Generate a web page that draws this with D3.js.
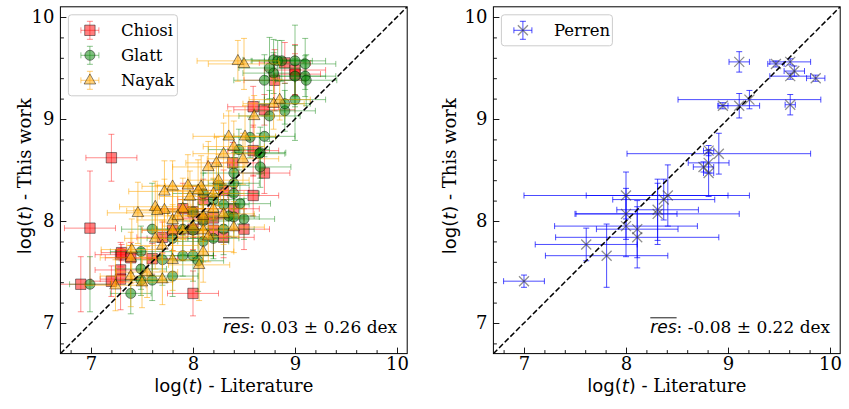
<!DOCTYPE html>
<html>
<head>
<meta charset="utf-8">
<script src="https://cdn.jsdelivr.net/npm/d3@7"></script>
<style>
body { margin: 0; background: #fff; }
text { fill: #000; }
</style>
</head>
<body>
<svg id="chart" width="849" height="409"></svg>
<script>
// log(t) values: literature (x), this work (y) and their errors
var chiosiLit = [7.20, 6.99, 6.90, 7.29, 7.30, 7.39, 7.29, 7.29, 7.20, 8.00, 8.00, 8.00, 7.80, 7.70, 8.10, 8.20, 8.50,
    8.20, 8.30, 8.39, 8.59, 8.70, 8.59, 8.59, 8.70, 8.90, 8.80, 9.00, 9.00, 8.30, 8.10, 7.90, 8.40, 7.60];
var chiosiThis = [8.62, 7.93, 7.38, 7.67, 7.69, 7.64, 7.52, 7.43, 7.41, 7.29, 8.09, 7.92, 7.91, 7.84, 8.21, 8.03, 7.92,
    7.91, 7.84, 8.57, 8.69, 8.47, 8.25, 9.12, 9.09, 9.55, 9.38, 9.48, 9.44, 8.30, 8.02, 8.12, 8.12, 7.63];
var chiosiLitErr = [0.25, 0.25, 0.30, 0.25, 0.20, 0.25, 0.25, 0.20, 0.20, 0.25, 0.30, 0.25, 0.30, 0.25, 0.25, 0.30, 0.25,
    0.25, 0.30, 0.25, 0.25, 0.25, 0.25, 0.25, 0.30, 0.25, 0.30, 0.30, 0.25, 0.25, 0.25, 0.30, 0.25, 0.25];
var chiosiThisErr = [0.23, 0.56, 0.27, 0.12, 0.08, 0.15, 0.12, 0.30, 0.15, 0.22, 0.25, 0.20, 0.20, 0.15, 0.20, 0.20, 0.20,
    0.25, 0.20, 0.20, 0.25, 0.20, 0.20, 0.20, 0.15, 0.20, 0.30, 0.25, 0.20, 0.20, 0.20, 0.25, 0.20, 0.15];

var glattLit = [6.99, 7.39, 7.49, 7.60, 7.49, 7.49, 7.80, 7.90, 8.00, 8.05, 7.60, 7.80, 8.10, 8.20, 8.30, 8.40, 8.50,
    8.40, 8.20, 8.30, 8.40, 8.40, 8.46, 8.66, 8.66, 8.70, 8.56, 8.45, 8.65, 8.75, 8.90, 8.90, 9.00, 8.70, 8.79, 8.75,
    8.79, 8.83, 8.87, 9.00, 9.10, 9.00, 9.10, 9.11, 8.00, 8.00, 8.10, 7.90, 8.25, 8.35, 7.70, 8.10];
var glattThis = [7.38, 7.29, 7.42, 7.42, 7.53, 7.70, 7.46, 7.66, 7.66, 7.61, 7.92, 7.83, 8.00, 7.83, 7.92, 8.04, 8.02,
    8.27, 8.21, 8.16, 8.47, 8.37, 8.17, 8.53, 8.67, 8.83, 8.82, 8.70, 8.66, 9.03, 9.08, 9.15, 9.19, 9.38, 9.45, 9.50,
    9.58, 9.57, 9.57, 9.57, 9.54, 9.42, 9.42, 9.38, 8.09, 7.91, 8.27, 7.92, 8.35, 8.05, 7.62, 7.80];
var glattLitErr = [0.20, 0.20, 0.25, 0.20, 0.25, 0.30, 0.25, 0.30, 0.20, 0.25, 0.30, 0.25, 0.30, 0.25, 0.30, 0.25, 0.30,
    0.25, 0.30, 0.25, 0.30, 0.25, 0.30, 0.30, 0.25, 0.30, 0.25, 0.30, 0.25, 0.30, 0.30, 0.25, 0.30, 0.30, 0.30, 0.30,
    0.30, 0.25, 0.30, 0.30, 0.30, 0.30, 0.30, 0.30, 0.25, 0.25, 0.30, 0.25, 0.30, 0.25, 0.30, 0.25];
var glattThisErr = [0.27, 0.20, 0.15, 0.20, 0.20, 0.25, 0.20, 0.20, 0.25, 0.30, 0.45, 0.20, 0.20, 0.20, 0.25, 0.20, 0.20,
    0.25, 0.20, 0.20, 0.20, 0.25, 0.20, 0.20, 0.25, 0.20, 0.20, 0.20, 0.20, 0.25, 0.20, 0.20, 0.40, 0.25, 0.20, 0.30,
    0.20, 0.20, 0.20, 0.35, 0.25, 0.30, 0.20, 0.25, 0.20, 0.20, 0.20, 0.25, 0.20, 0.20, 0.25, 0.20];

var nayakLit = [7.24, 7.39, 7.70, 7.80, 8.06, 7.70, 7.63, 7.80, 7.80, 7.90, 8.10, 7.46, 7.63, 7.72, 7.80, 7.72, 7.90,
    7.97, 8.08, 8.15, 8.23, 8.30, 8.49, 8.20, 8.30, 8.40, 8.35, 8.51, 8.40, 8.60, 8.79, 8.85, 8.44, 8.50, 7.39, 8.00,
    8.10, 8.20, 8.15, 7.55, 7.40, 8.25, 7.95, 7.85, 8.05, 7.50, 8.10, 7.65];
var nayakThis = [7.37, 7.46, 7.43, 7.62, 7.57, 7.76, 7.83, 7.91, 8.01, 7.91, 7.91, 8.08, 8.14, 8.11, 8.34, 8.29, 8.12,
    8.24, 8.34, 8.53, 8.57, 8.66, 8.61, 8.27, 8.07, 7.94, 8.83, 8.83, 8.73, 9.03, 9.15, 9.19, 9.57, 9.54, 7.64, 7.95,
    8.05, 8.12, 7.85, 7.50, 7.72, 8.40, 8.35, 8.05, 8.30, 7.40, 7.70, 8.10];
var nayakLitErr = [0.30, 0.30, 0.30, 0.30, 0.30, 0.35, 0.30, 0.30, 0.35, 0.30, 0.30, 0.30, 0.35, 0.30, 0.30, 0.35, 0.30,
    0.30, 0.35, 0.35, 0.30, 0.30, 0.35, 0.30, 0.30, 0.30, 0.35, 0.30, 0.30, 0.30, 0.30, 0.30, 0.40, 0.35, 0.30, 0.30,
    0.35, 0.30, 0.30, 0.30, 0.30, 0.30, 0.30, 0.35, 0.30, 0.30, 0.30, 0.30];
var nayakThisErr = [0.25, 0.30, 0.25, 0.30, 0.35, 0.25, 0.30, 0.25, 0.30, 0.30, 0.25, 0.30, 0.25, 0.30, 0.25, 0.30, 0.30,
    0.25, 0.30, 0.25, 0.25, 0.30, 0.25, 0.25, 0.30, 0.25, 0.25, 0.30, 0.25, 0.20, 0.25, 0.20, 0.20, 0.25, 0.25, 0.30,
    0.25, 0.30, 0.25, 0.25, 0.30, 0.25, 0.30, 0.25, 0.30, 0.25, 0.30, 0.25];

var perrenLit = [7.00, 7.61, 7.81, 8.00, 8.00, 8.00, 8.11, 8.11, 8.31, 8.31, 8.37, 8.41, 8.76, 8.81, 8.81, 8.81, 8.91,
    8.95, 9.11, 9.21, 9.11, 9.47, 9.61, 9.65, 9.61, 9.86, 9.61];
var perrenThis = [7.41, 7.77, 7.66, 8.25, 8.07, 7.95, 7.92, 7.84, 8.11, 8.07, 8.21, 8.25, 8.53, 8.57, 8.47, 8.69, 8.66,
    9.13, 9.13, 9.19, 9.56, 9.54, 9.56, 9.47, 9.42, 9.40, 9.14];
var perrenLitErr = [0.20, 0.50, 0.60, 1.00, 0.50, 0.70, 0.40, 0.80, 0.40, 0.80, 0.50, 0.80, 0.10, 0.20, 0.05, 0.05, 0.90,
    0.05, 0.20, 0.70, 0.10, 0.08, 0.20, 0.10, 0.20, 0.09, 0.05];
var perrenThisErr = [0.06, 0.16, 0.31, 0.23, 0.25, 0.30, 0.28, 0.30, 0.30, 0.30, 0.20, 0.30, 0.05, 0.10, 0.23, 0.05, 0.20,
    0.03, 0.12, 0.09, 0.10, 0.03, 0.03, 0.05, 0.03, 0.03, 0.10];

var tickValues = [7, 8, 9, 10];

var svg = d3.select("#chart");
var size = 346.8;
var domain = [6.7, 10.1];
var serif = '"DejaVu Serif", serif';
var sans = '"DejaVu Sans", sans-serif';

function markerPath(kind) {
    if (kind == "square") return "M-5.2,-5.2H5.2V5.2H-5.2Z";
    if (kind == "triangle") return "M0,-6.4L5.8,3.7H-5.8Z";
    if (kind == "x") return "M-5,-5L5,5M-5,5L5,-5";
    return d3.symbol().type(d3.symbolCircle).size(80)();
}

function drawErrorBars(g, pts, x, y, color, opacity) {
    var cap = 3;
    var eb = g.append("g").attr("stroke", color).attr("stroke-opacity", opacity).attr("stroke-width", 1).attr("fill", "none");
    pts.forEach(function (d) {
        var px = x(d.lit), py = y(d.mine);
        var x0 = x(d.lit - d.litErr), x1 = x(d.lit + d.litErr);
        var y0 = y(d.mine - d.mineErr), y1 = y(d.mine + d.mineErr);
        eb.append("path").attr("d",
            "M" + x0 + "," + py + "H" + x1 +
            "M" + px + "," + y0 + "V" + y1 +
            "M" + x0 + "," + (py - cap) + "V" + (py + cap) +
            "M" + x1 + "," + (py - cap) + "V" + (py + cap) +
            "M" + (px - cap) + "," + y0 + "H" + (px + cap) +
            "M" + (px - cap) + "," + y1 + "H" + (px + cap));
    });
}

function drawMarkers(g, pts, x, y, s) {
    g.append("g").selectAll("path").data(pts).enter().append("path")
        .attr("d", markerPath(s.marker))
        .attr("transform", function (d) { return "translate(" + x(d.lit) + "," + y(d.mine) + ")"; })
        .attr("fill", s.marker == "x" ? "none" : s.color)
        .attr("fill-opacity", 0.5)
        .attr("stroke", s.marker == "x" ? "#333" : "#000")
        .attr("stroke-opacity", s.marker == "x" ? 0.55 : 0.45)
        .attr("stroke-width", s.marker == "x" ? 1.3 : 1);
}

function legendEntry(g, s, cx, cy) {
    var fake = [{ lit: 0, mine: 0, litErr: 9, mineErr: 9 }];
    var lx = d3.scaleLinear().domain([0, 1]).range([cx, cx + 1]);
    var ly = d3.scaleLinear().domain([0, 1]).range([cy, cy - 1]);
    drawErrorBars(g, fake, lx, ly, s.color, s.barOpacity);
    drawMarkers(g, fake, lx, ly, s);
    g.append("text").attr("x", cx + 31).attr("y", cy + 6).style("font-family", serif).style("font-size", "16.5px").text(s.name);
}

function drawPanel(left, series, resLabel, legendWidth, ylabelOffset) {
    var g = svg.append("g").attr("transform", "translate(" + left + ",6.8)");
    var x = d3.scaleLinear().domain(domain).range([0, size]);
    var y = d3.scaleLinear().domain(domain).range([size, 0]);

    var clip = "clip" + Math.round(left);
    g.append("clipPath").attr("id", clip).append("rect").attr("width", size).attr("height", size);
    var plot = g.append("g").attr("clip-path", "url(#" + clip + ")");

    series.forEach(function (s) {
        var pts = s.lit.map(function (v, i) {
            return { lit: v, mine: s.mine[i], litErr: s.litErr[i], mineErr: s.mineErr[i] };
        });
        drawErrorBars(plot, pts, x, y, s.color, s.barOpacity);
        drawMarkers(plot, pts, x, y, s);
    });

    // one-to-one line
    plot.append("line")
        .attr("x1", x(domain[0])).attr("y1", y(domain[0]))
        .attr("x2", x(domain[1])).attr("y2", y(domain[1]))
        .attr("stroke", "#000").attr("stroke-width", 1.5).attr("stroke-dasharray", "5.5,2.5");

    // axes, ticks pointing inward
    var minor = d3.range(6.8, 10.1, 0.2).filter(function (v) { return Math.abs(v - Math.round(v)) > 0.01; });
    g.append("g").attr("transform", "translate(0," + size + ")")
        .call(d3.axisBottom(x).tickValues(tickValues).tickSizeInner(-6).tickSizeOuter(0).tickPadding(4).tickFormat(d3.format("d")));
    g.append("g").attr("transform", "translate(0," + size + ")")
        .call(d3.axisBottom(x).tickValues(minor).tickSizeInner(-3.5).tickSizeOuter(0).tickFormat(""));
    g.append("g")
        .call(d3.axisLeft(y).tickValues(tickValues).tickSizeInner(-6).tickSizeOuter(0).tickPadding(6).tickFormat(d3.format("d")));
    g.append("g")
        .call(d3.axisLeft(y).tickValues(minor).tickSizeInner(-3.5).tickSizeOuter(0).tickFormat(""));
    g.selectAll(".domain").remove();
    g.selectAll(".tick line").attr("stroke", "#000").attr("stroke-width", 0.9);
    g.selectAll(".tick text").attr("font-family", null).attr("font-size", null)
        .style("font-family", serif).style("font-size", "18px");

    g.append("rect").attr("width", size).attr("height", size)
        .attr("fill", "none").attr("stroke", "#000").attr("stroke-width", 1);

    // axis titles
    var xt = g.append("text").attr("x", size / 2).attr("y", 385).attr("text-anchor", "middle").style("font-size", "18px");
    xt.append("tspan").style("font-family", sans).text("log(");
    xt.append("tspan").style("font-family", sans).style("font-style", "italic").text("t");
    xt.append("tspan").style("font-family", sans).text(")");
    xt.append("tspan").style("font-family", serif).text(" - Literature");

    var yt = g.append("text").attr("transform", "translate(" + ylabelOffset + "," + (size / 2 - 4) + ") rotate(-90)")
        .attr("text-anchor", "middle").style("font-size", "18px");
    yt.append("tspan").style("font-family", sans).text("log(");
    yt.append("tspan").style("font-family", sans).style("font-style", "italic").text("t");
    yt.append("tspan").style("font-family", sans).text(")");
    yt.append("tspan").style("font-family", serif).text(" - This work");

    // mean residual note, right aligned
    var note = g.append("g");
    var resT = note.append("text").attr("y", 326).style("font-family", sans).style("font-style", "italic")
        .style("font-size", "17px").text("res");
    var rest = note.append("text").attr("y", 326).style("font-family", serif).style("font-size", "17px").text(resLabel);
    var w1 = resT.node().getComputedTextLength(), w2 = rest.node().getComputedTextLength();
    var start = size - 10 - w1 - w2;
    resT.attr("x", start);
    rest.attr("x", start + w1);
    note.append("line").attr("x1", start).attr("x2", start + w1).attr("y1", 311).attr("y2", 311)
        .attr("stroke", "#000").attr("stroke-width", 0.9);

    // legend
    var lg = g.append("g").attr("transform", "translate(8,8)");
    lg.append("rect").attr("width", legendWidth).attr("height", 6 + series.length * 25)
        .attr("rx", 3).attr("fill", "#fff").attr("fill-opacity", 0.8).attr("stroke", "#ccc");
    series.forEach(function (s, i) {
        legendEntry(lg, s, 21.5, 15.5 + i * 25);
    });
}

drawPanel(60.4, [
    { name: "Chiosi", lit: chiosiLit, mine: chiosiThis, litErr: chiosiLitErr, mineErr: chiosiThisErr, color: "#ff0000", barOpacity: 0.45, marker: "square" },
    { name: "Glatt", lit: glattLit, mine: glattThis, litErr: glattLitErr, mineErr: glattThisErr, color: "#008000", barOpacity: 0.45, marker: "circle" },
    { name: "Nayak", lit: nayakLit, mine: nayakThis, litErr: nayakLitErr, mineErr: nayakThisErr, color: "#ffa500", barOpacity: 0.55, marker: "triangle" }
], ": 0.03 \u00b1 0.26 dex", 109, -29);

drawPanel(493.4, [
    { name: "Perren", lit: perrenLit, mine: perrenThis, litErr: perrenLitErr, mineErr: perrenThisErr, color: "#0000ff", barOpacity: 0.7, marker: "x" }
], ": -0.08 \u00b1 0.22 dex", 111, -37);
</script>
</body>
</html>
